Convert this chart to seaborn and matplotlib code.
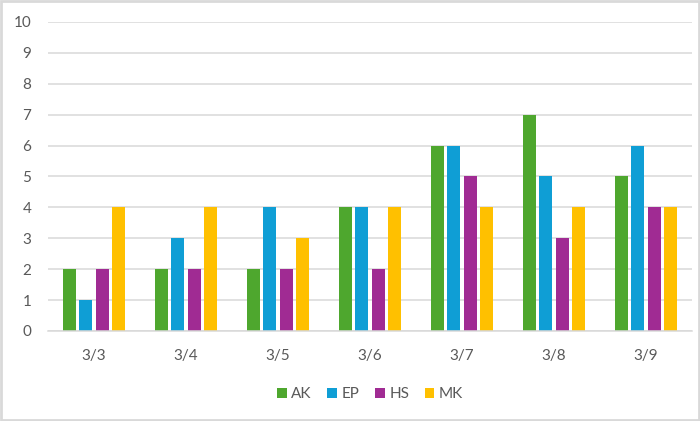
import pandas as pd
import matplotlib
matplotlib.use("Agg")
import matplotlib.pyplot as plt
import seaborn as sns

# data
dates = ["3/3", "3/4", "3/5", "3/6", "3/7", "3/8", "3/9"]
ak = [2, 2, 2, 4, 6, 7, 5]
ep = [1, 3, 4, 4, 6, 5, 6]
hs = [2, 2, 2, 2, 5, 3, 4]
mk = [4, 4, 3, 4, 4, 4, 4]
series = ["AK", "EP", "HS", "MK"]
colors = ["#4EA72E", "#0F9ED5", "#A02B93", "#FFC000"]

df = pd.DataFrame({"date": dates, "AK": ak, "EP": ep, "HS": hs, "MK": mk})
long = df.melt(id_vars="date", var_name="name", value_name="count")

sns.set_style("white")
plt.rcParams["font.family"] = ["Lato", "DejaVu Sans"]

fig = plt.figure(figsize=(7, 4.21), dpi=100)
ax = fig.add_axes([0.0686, 0.2138, 0.92, 0.734])

sns.barplot(data=long, x="date", y="count", hue="name", hue_order=series,
            palette=colors, width=0.71, gap=0.2, saturation=1, linewidth=0,
            edgecolor="none", ax=ax)

ax.set_ylim(0, 10)
ax.set_xlim(-0.5, len(dates) - 0.5)
ax.set_yticks(range(0, 11))
ax.yaxis.grid(True, color="#D9D9D9", linewidth=1.1)
ax.set_axisbelow(True)
for s in ["top", "right", "left"]:
    ax.spines[s].set_visible(False)
ax.spines["bottom"].set_color("#D9D9D9")
ax.spines["bottom"].set_linewidth(1.1)
ax.set_xticks([i - 0.5 for i in range(len(dates) + 1)], minor=True)
ax.tick_params(axis="x", which="minor", length=5, color="#D9D9D9", width=1.1)
ax.tick_params(axis="x", which="major", length=0, pad=13, labelsize=11, labelcolor="#595959")
ax.tick_params(axis="y", length=0, pad=12, labelsize=11, labelcolor="#595959")
ax.set_xlabel("")
ax.set_ylabel("")

ax.legend(loc="center", bbox_to_anchor=(0.5, -0.205), ncol=4, frameon=False,
          fontsize=11, labelcolor="#595959", handlelength=0.65, handleheight=0.65,
          handletextpad=0.3, columnspacing=1.0)

fig.patches.append(plt.Rectangle((0.001, 0.002), 0.997, 0.995, transform=fig.transFigure,
                                 fill=False, edgecolor="#D9D9D9", linewidth=2))

fig.savefig("out.png", dpi=100)
